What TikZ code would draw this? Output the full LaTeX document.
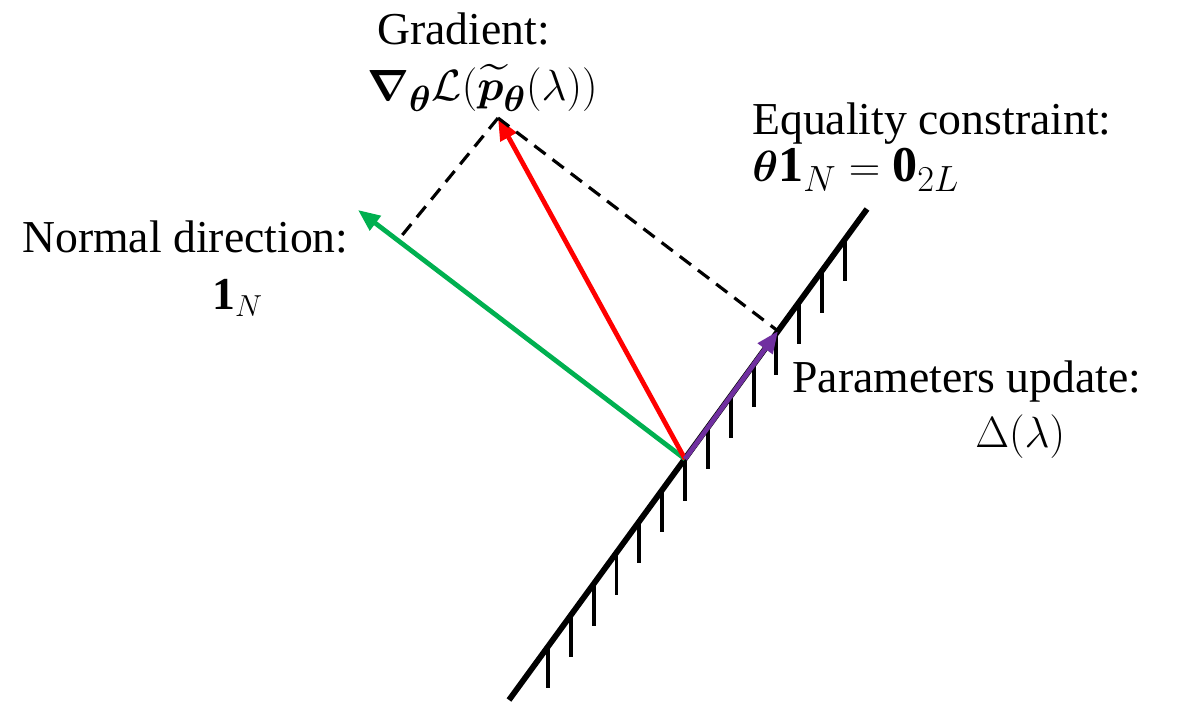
\documentclass[tikz,border=0pt]{standalone}
\usepackage{amsmath,amssymb,bm}
\usepackage{fontspec}
\setmainfont{Liberation Serif}
\usetikzlibrary{positioning,calc,arrows.meta}

\definecolor{normgreen}{RGB}{0,176,80}
\definecolor{updpurple}{RGB}{112,48,160}

\tikzset{
  lbl/.style={inner sep=0pt,anchor=base west,font=\fontsize{26}{31}\selectfont},
  biglbl/.style={lbl,font=\fontsize{28.5}{34}\selectfont},
  vec/.style={line width=2.7pt,-{Triangle[length=12.5pt,width=10pt]}},
  proj/.style={line width=1.8pt,dash pattern=on 8pt off 5pt},
  wall/.style={line width=3.3pt},
  hatch/.style={line width=2.2pt}
}

\begin{document}
\begin{tikzpicture}[x=0.02cm,y=-0.02cm]
\useasboundingbox (0,0) rectangle (1186,702);
% constraint line with hatching
\coordinate (A) at (509,700);
\coordinate (B) at (867,209);
\coordinate (O) at (685,459);
\draw[wall] (A) -- (B);
\foreach \i in {0,...,13} {
  \pgfmathsetmacro{\t}{0.109+0.0638*\i}
  \draw[hatch] ($(A)!\t!(B)$) -- ++(0,42);
}
% vectors
\coordinate (N) at (358,210);
\coordinate (G) at (498,118);
\coordinate (U) at ($(A)!0.7514!(B)$);
\coordinate (F) at ($(O)!0.878!(N)$);
\draw[vec,normgreen] (O) -- (N);
\draw[vec,red] (O) -- (G);
\draw[vec,updpurple] (O) -- (U);
\draw[proj] (G) -- (U);
\draw[proj] (G) -- (F);
% labels
\node[lbl] (gradtxt) at (377,45) {Gradient:};
\node[biglbl] (gradmath) at (367,101) {$\boldsymbol{\nabla}_{\boldsymbol{\theta}}\mathcal{L}(\widetilde{\boldsymbol{p}}_{\boldsymbol{\theta}}(\lambda))$};
\node[lbl] (eqtxt) at (752,135) {Equality constraint:};
\node[biglbl] (eqmath) at (752,182) {$\boldsymbol{\theta}\mathbf{1}_N=\mathbf{0}_{2L}$};
\node[lbl] (normtxt) at (22,253) {Normal direction:};
\node[lbl] (normmath) at (212,310) {$\mathbf{1}_N$};
\node[lbl] (updtxt) at (792,392) {Parameters update:};
\node[lbl] (updmath) at (975,447) {$\Delta(\lambda)$};
\end{tikzpicture}
\end{document}
